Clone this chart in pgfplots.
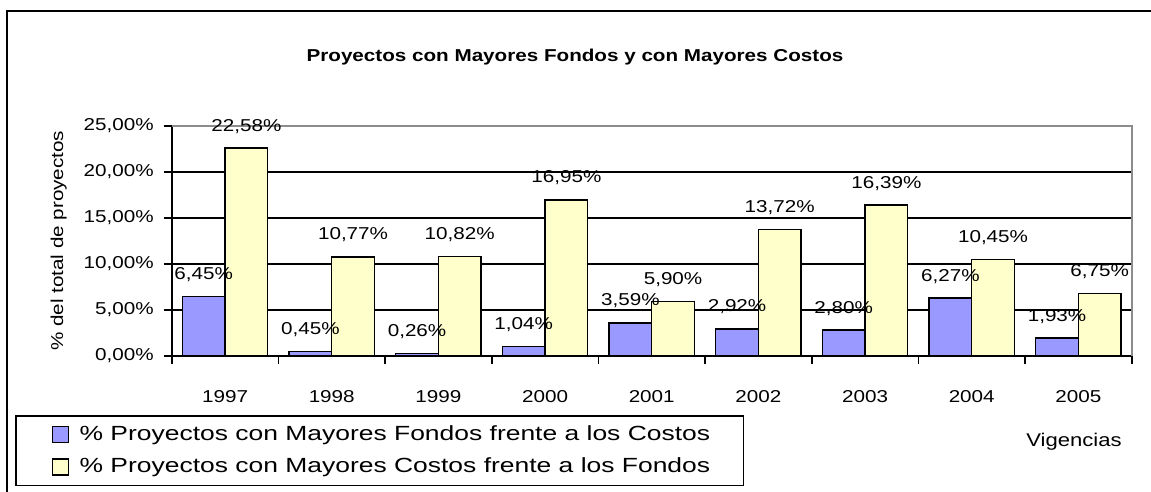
\documentclass[border=0pt]{standalone}
\usepackage{pgfplots}
\pgfplotsset{compat=1.18}
\usepackage{fontspec}
\setmainfont{Liberation Sans}[FakeStretch=1.2]
\newfontfamily\axfont{Liberation Sans}[FakeStretch=1.2]
\newfontfamily\legfont{Liberation Sans}[FakeStretch=1.29]
\definecolor{barblue}{HTML}{9999FF}
\definecolor{baryel}{HTML}{FFFFCC}
\definecolor{frameg}{HTML}{8C8C8C}
\begin{document}
\begin{tikzpicture}[x=0.5pt,y=0.5pt,font=\axfont\fontsize{8.6}{10.3}\selectfont]
\useasboundingbox (0,0) rectangle (1151,492);
\draw[line width=1.2pt] (7,-5) -- (7,481) -- (1160,481);
\node[font=\axfont\fontsize{8.6}{10.3}\selectfont\bfseries] at (575,435) {Proyectos con Mayores Fondos y con Mayores Costos};
\node[font=\axfont\fontsize{9.2}{11}\selectfont] at (1074,50) {Vigencias};
\begin{axis}[
  at={(161,148)}, anchor=south west,
  width=480pt, height=115pt, scale only axis,
  /pgf/number format/assume math mode=true,
  ybar=0pt, bar width=0.4,
  xmin=-0.5, xmax=8.5, ymin=0, ymax=25,
  axis x line*=bottom, axis y line*=left,
  axis line style={-, black, line width=1pt},
  xtick={0,...,8},
  xticklabels={1997,1998,1999,2000,2001,2002,2003,2004,2005},
  major x tick style={draw=none},
  minor xtick={-0.5,0.5,...,8.5},
  minor x tick style={black, line width=0.8pt},
  minor tick length=4pt,
  ytick={0,5,...,25},
  yticklabels={{0,00\%},{5,00\%},{10,00\%},{15,00\%},{20,00\%},{25,00\%}},
  y tick style={black, line width=0.8pt},
  major tick length=4pt,
  tick align=outside,
  ymajorgrids, grid style={black, line width=0.7pt},
  xticklabel style={yshift=-10pt},
  yticklabel style={xshift=-1.5pt},
  ylabel={\% del total de proyectos},
  ylabel style={at={(axis description cs:-0.1177,0.5)}, anchor=center},
  every axis plot/.append style={draw=black, line width=0.75pt},
  nodes near coords={\pgfmathprintnumber[fixed,fixed zerofill,precision=2,use comma]{\pgfplotspointmeta}\%},
  nodes near coords style={anchor=base, inner sep=0pt, yshift=8.5pt, text=black},
  legend style={name=leg, at={(axis description cs:-0.1625,-0.2609)}, anchor=north west,
    draw=black, font=\legfont\fontsize{10.25}{12}\selectfont,
    inner xsep=2pt, inner ysep=2.5pt, row sep=3.5pt, cells={anchor=west}},
  legend image code/.code={\path (-16pt,0pt) (11pt,0pt); \draw[#1, line width=0.6pt] (0pt,-4pt) rectangle (8pt,4pt);},
  clip=false,
]
\addplot[fill=barblue] coordinates {(0,6.45) (1,0.45) (2,0.26) (3,1.04) (4,3.59) (5,2.92) (6,2.80) (7,6.27) (8,1.93)};
\addplot[fill=baryel] coordinates {(0,22.58) (1,10.77) (2,10.82) (3,16.95) (4,5.90) (5,13.72) (6,16.39) (7,10.45) (8,6.75)};
\legend{\% Proyectos con Mayores Fondos frente a los Costos\hspace{12.5pt}\null, \% Proyectos con Mayores Costos frente a los Fondos\hspace{12.5pt}\null}
\draw[frameg, line width=1pt] (rel axis cs:0,1) -- (rel axis cs:1,1) -- (rel axis cs:1,0);
\end{axis}
\draw[black, line width=0.8pt] (leg.south west) rectangle (leg.north east);
\end{tikzpicture}
\end{document}
